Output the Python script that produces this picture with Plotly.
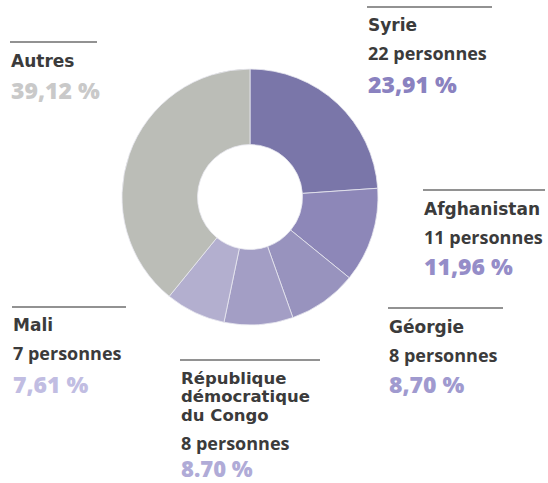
import plotly.graph_objects as go

W, H = 548, 483

countries = ["Syrie", "Afghanistan", "Géorgie", "République démocratique du Congo", "Mali", "Autres"]
persons = [22, 11, 8, 8, 7, 36]
percent_labels = ["23,91 %", "11,96 %", "8,70 %", "8.70 %", "7,61 %", "39,12 %"]
slice_colors = ["#7a76a9", "#8d87b8", "#9893be", "#a39ec5", "#b3afcf", "#bbbdb7"]
pct_colors = ["#8a82c0", "#958dc8", "#a09acf", "#b0abd7", "#c1bde2", "#c9c9c9"]


def px(p):
    return p / W


def py(p):
    return 1 - p / H


fig = go.Figure()
fig.add_trace(go.Pie(
    values=persons,
    labels=countries,
    hole=0.41,
    sort=False,
    direction="clockwise",
    rotation=0,
    marker=dict(colors=slice_colors, line=dict(color="#e8e8f0", width=0.8)),
    textinfo="none",
    hoverinfo="label+value+percent",
    showlegend=False,
    domain=dict(x=[px(122), px(378)], y=[py(325), py(69)]),
))

DARK = "#3b3b3b"
NAME = ("DejaVu Sans", 17, 700)
NAME_S = ("DejaVu Sans", 16.5, 700)
PERS = ("Open Sans", 18, 700)
PCT = ("Open Sans", 23, 800)
PCT_S = ("Open Sans", 22, 800)

blocks = [
    (367, 7, 492, [("Syrie", 25, NAME, DARK), ("22 personnes", 53, PERS, DARK),
                   (percent_labels[0], 84, PCT, pct_colors[0])]),
    (10, 42, 97, [("Autres", 61, NAME, DARK), (percent_labels[5], 90, PCT, pct_colors[5])]),
    (423, 190, 545, [("Afghanistan", 209, NAME, DARK), ("11 personnes", 237, PERS, DARK),
                     (percent_labels[1], 266, PCT, pct_colors[1])]),
    (388, 308, 503, [("Géorgie", 327, NAME, DARK), ("8 personnes", 355, PERS, DARK),
                     (percent_labels[2], 384, PCT, pct_colors[2])]),
    (12, 307, 126, [("Mali", 325, NAME, DARK), ("7 personnes", 353, PERS, DARK),
                    (percent_labels[4], 384, PCT, pct_colors[4])]),
    (180, 360, 320, [("République", 378, NAME_S, DARK), ("démocratique", 396.5, NAME_S, DARK),
                     ("du Congo", 415, NAME_S, DARK), ("8 personnes", 443, PERS, DARK),
                     (percent_labels[3], 468, PCT_S, pct_colors[3])]),
]

for x0, ly, x1, texts in blocks:
    fig.add_shape(type="line", xref="paper", yref="paper",
                  x0=px(x0), x1=px(x1), y0=py(ly), y1=py(ly),
                  line=dict(color="#6e6e6e", width=1.5))
    for t, yc, (fam, size, weight), color in texts:
        fig.add_annotation(text=t, xref="paper", yref="paper", x=px(x0), y=py(yc),
                           xanchor="left", yanchor="middle", showarrow=False,
                           borderpad=0,
                           font=dict(family=fam, size=size, color=color, weight=weight))

fig.update_layout(width=W, height=H, margin=dict(l=0, r=0, t=0, b=0),
                  paper_bgcolor="white", plot_bgcolor="white")
fig.write_html("out.html", config={"displayModeBar": False},
               post_script="document.body.style.margin='0';document.body.style.overflow='hidden';")
